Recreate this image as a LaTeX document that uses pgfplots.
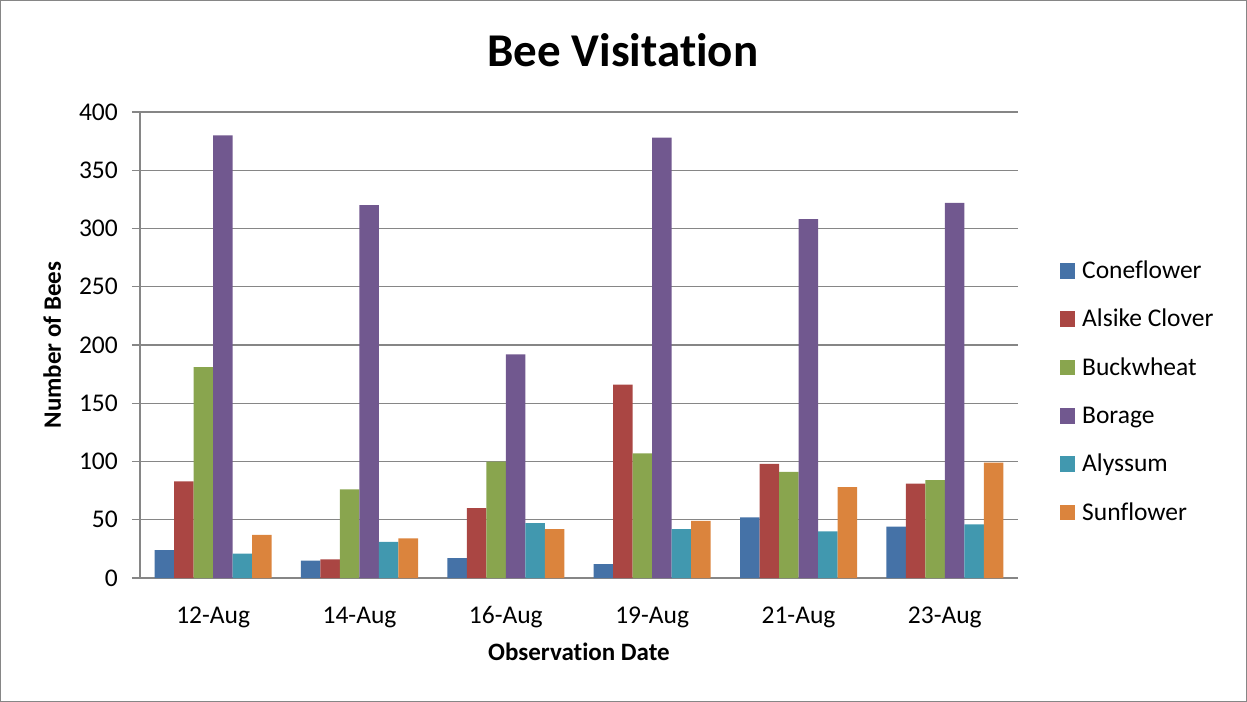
\documentclass[border=0pt]{standalone}
\usepackage{pgfplots}
\pgfplotsset{compat=1.18}
\usepackage{fontspec}
\setmainfont{Carlito}[Ligatures=NoCommon]
\definecolor{cCone}{HTML}{4572A7}
\definecolor{cAls}{HTML}{AA4643}
\definecolor{cBuck}{HTML}{89A54E}
\definecolor{cBor}{HTML}{71588F}
\definecolor{cAly}{HTML}{4198AF}
\definecolor{cSun}{HTML}{DB843D}
\definecolor{gridc}{HTML}{868686}
\begin{document}
\begin{tikzpicture}
\useasboundingbox (-140bp,-124bp) rectangle (1107bp,578bp);
\draw[gridc, line width=1.2bp] (-139.4bp,-123.4bp) rectangle (1106.4bp,577.4bp);
\begin{axis}[
  at={(0,0)}, anchor=south west,
  scale only axis, width=878bp, height=466bp,
  ybar=0pt, bar width=19.5bp,
  xmin=-0.5, xmax=5.5, ymin=0, ymax=400,
  xtick={0,1,2,3,4,5},
  xticklabels={12-Aug,14-Aug,16-Aug,19-Aug,21-Aug,23-Aug},
  ytick={0,50,...,400},
  axis x line*=bottom, axis y line*=left,
  axis line style={gridc, line width=1.3bp, -},
  tick align=outside,
  major tick length=8bp,
  x tick style={draw=none},
  y tick style={gridc, line width=1.3bp},
  ymajorgrids, grid style={gridc, line width=1.3bp},
  /pgf/number format/assume math mode=true,
  tick label style={font=\fontsize{25.5bp}{30bp}\selectfont, black},
  yticklabel style={anchor=east, inner sep=0pt, xshift=-14bp},
  xticklabel style={anchor=base, yshift=-37bp},
  title={Bee Visitation},
  title style={font=\fontsize{47bp}{55bp}\selectfont\bfseries, at={(0.550,1)}, anchor=base, yshift=40bp},
  xlabel={Observation Date},
  xlabel style={font=\fontsize{25bp}{30bp}\selectfont\bfseries, at={(axis description cs:0.5,0)}, anchor=base, yshift=-82bp},
  ylabel={Number of Bees},
  ylabel style={font=\fontsize{25bp}{30bp}\selectfont\bfseries, at={(axis description cs:-0.0900,0.5)}, anchor=base, rotate=0},
  legend style={draw=none, fill=none, inner sep=0pt, at={(1.0478,0.40)}, anchor=west,
    font=\fontsize{25.5bp}{30bp}\selectfont,
    cells={anchor=west},
    nodes={inner sep=0pt, text height=20bp, text depth=4.5bp},
    row sep=23.8bp, column sep=0pt},
  legend image code/.code={\fill[#1,draw=none] (0bp,-7.75bp) rectangle (15bp,7.75bp); \path (22bp,0);},
]
\addplot[fill=cCone, draw=none] coordinates {(0,24) (1,15) (2,17) (3,12) (4,52) (5,44)};
\addplot[fill=cAls, draw=none] coordinates {(0,83) (1,16) (2,60) (3,166) (4,98) (5,81)};
\addplot[fill=cBuck, draw=none] coordinates {(0,181) (1,76) (2,100) (3,107) (4,91) (5,84)};
\addplot[fill=cBor, draw=none] coordinates {(0,380) (1,320) (2,192) (3,378) (4,308) (5,322)};
\addplot[fill=cAly, draw=none] coordinates {(0,21) (1,31) (2,47) (3,42) (4,40) (5,46)};
\addplot[fill=cSun, draw=none] coordinates {(0,37) (1,34) (2,42) (3,49) (4,78) (5,99)};
\legend{Coneflower, Alsike Clover, Buckwheat, Borage, Alyssum, Sunflower}
\end{axis}
\end{tikzpicture}
\end{document}
